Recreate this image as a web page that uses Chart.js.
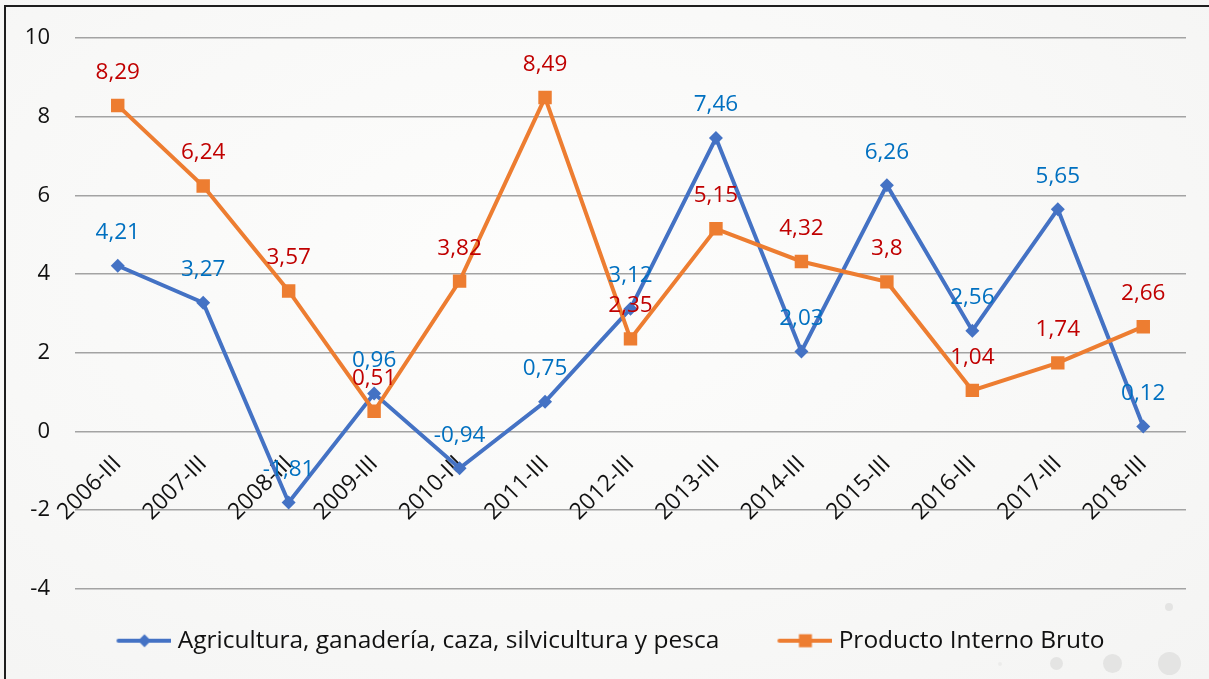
<!DOCTYPE html>
<html>
<head>
<meta charset="utf-8">
<script src="https://cdn.jsdelivr.net/npm/chart.js@4/dist/chart.umd.min.js"></script>
<style>
  html, body { margin: 0; padding: 0; }
  body { width: 1209px; height: 679px; overflow: hidden; position: relative;
         background: radial-gradient(ellipse at 45% 40%, #fdfdfc 0%, #f8f8f7 60%, #f4f4f3 100%); }
  #frame { position: absolute; left: 4px; top: 5px; width: 1230px; height: 700px;
           border-top: 2px solid #1e1e1e; border-left: 2px solid #1e1e1e; }
  .dot { position: absolute; border-radius: 50%; background: #e4e4e3; }
  canvas { position: absolute; left: 0; top: 0; }
</style>
</head>
<body>
<div id="frame"></div>
<div class="dot" style="left:1158px;top:652px;width:23px;height:23px;"></div>
<div class="dot" style="left:1103px;top:654px;width:19px;height:19px;"></div>
<div class="dot" style="left:1050px;top:657px;width:13px;height:13px;"></div>
<div class="dot" style="left:1165px;top:603px;width:8px;height:8px;"></div>
<div class="dot" style="left:998px;top:662px;width:4px;height:4px;background:#ececeb"></div>
<canvas id="c" width="1209" height="679"></canvas>
<script>
const categories = ["2006-III","2007-III","2008-III","2009-III","2010-III","2011-III","2012-III","2013-III","2014-III","2015-III","2016-III","2017-III","2018-III"];
const agricultura = [4.21, 3.27, -1.81, 0.96, -0.94, 0.75, 3.12, 7.46, 2.03, 6.26, 2.56, 5.65, 0.12];
const pib = [8.29, 6.24, 3.57, 0.51, 3.82, 8.49, 2.35, 5.15, 4.32, 3.8, 1.04, 1.74, 2.66];
const seriesNames = ["Agricultura, ganadería, caza, silvicultura y pesca", "Producto Interno Bruto"];
const yTicks = [-4, -2, 0, 2, 4, 6, 8, 10];

const FONT = "'Open Sans', 'Noto Sans', sans-serif";
const BLUE = "#4472C4", ORANGE = "#ED7D31";

function legendIcon(color, kind) {
  const c = document.createElement('canvas');
  c.width = 60; c.height = 16;
  const g = c.getContext('2d');
  g.strokeStyle = color; g.lineWidth = 4; g.lineCap = 'round';
  g.beginPath(); g.moveTo(7, 8); g.lineTo(59, 8); g.stroke();
  g.fillStyle = color;
  if (kind === 'diamond') {
    g.beginPath(); g.moveTo(33, 1.5); g.lineTo(39.5, 8); g.lineTo(33, 14.5); g.lineTo(26.5, 8); g.closePath(); g.fill();
  } else {
    g.fillRect(26.5, 1.5, 13, 13);
  }
  return c;
}
const icons = [legendIcon(BLUE, 'diamond'), legendIcon(ORANGE, 'square')];
const labelColors = ["#0070C0", "#C00000"];
const legendGap = ["   ", ""];

const dataLabels = {
  id: 'dataLabels',
  afterDatasetsDraw(chart) {
    const ctx = chart.ctx;
    ctx.save();
    ctx.font = "22.5px " + FONT;
    ctx.textAlign = 'center';
    ctx.textBaseline = 'middle';
    chart.data.datasets.forEach((ds, i) => {
      const meta = chart.getDatasetMeta(i);
      ctx.fillStyle = labelColors[i];
      meta.data.forEach((el, j) => {
        const txt = String(ds.data[j]).replace('.', ',');
        ctx.fillText(txt, el.x, el.y - 33);
      });
    });
    ctx.restore();
  }
};

const legendShift = {
  id: 'legendShift',
  afterLayout(chart) {
    if (chart.legend) { chart.legend.left += 8; chart.legend.right += 8; }
  }
};

new Chart(document.getElementById('c'), {
  type: 'line',
  data: {
    labels: categories,
    datasets: [
      { label: seriesNames[0], data: agricultura, borderColor: BLUE, backgroundColor: BLUE,
        borderWidth: 4, pointStyle: 'rectRot', pointRadius: 7, pointHoverRadius: 7,
        pointBorderWidth: 0, order: 1, tension: 0 },
      { label: seriesNames[1], data: pib, borderColor: ORANGE, backgroundColor: ORANGE,
        borderWidth: 4, pointStyle: 'rect', pointRadius: 9.5, pointHoverRadius: 9.5,
        pointBorderWidth: 0, order: 0, tension: 0 }
    ]
  },
  options: {
    responsive: false,
    animation: false,
    layout: { padding: { left: 20, right: 23, top: 37, bottom: 16 } },
    plugins: {
      tooltip: { enabled: false },
      legend: {
        position: 'bottom',
        labels: {
          usePointStyle: true,
          pointStyleWidth: 48,
          font: { family: FONT, size: 24.5 },
          color: '#111',
          padding: 40,
          sort: (a, b) => a.datasetIndex - b.datasetIndex,
          generateLabels(chart) {
            return chart.data.datasets.map((ds, i) => ({
              text: ds.label + legendGap[i], pointStyle: icons[i], datasetIndex: i,
              fillStyle: ds.borderColor, strokeStyle: ds.borderColor, lineWidth: 0, hidden: false,
              fontColor: '#111'
            }));
          }
        }
      }
    },
    scales: {
      x: {
        position: { y: 0 },
        offset: true,
        grid: { display: false, drawTicks: false },
        border: { display: false },
        ticks: { minRotation: 45, maxRotation: 45, autoSkip: false, padding: 19,
                 font: { family: FONT, size: 23 }, color: '#111' }
      },
      y: {
        min: -4, max: 10,
        afterFit(s) { s.width = 55; },
        afterBuildTicks(s) { s.ticks = yTicks.map(v => ({ value: v })); },
        grid: { color: '#a3a3a3', lineWidth: 1.5, drawTicks: false },
        border: { display: false },
        ticks: { padding: 25, font: { family: FONT, size: 22 }, color: '#111' }
      }
    }
  },
  plugins: [dataLabels, legendShift]
});
</script>
</body>
</html>
